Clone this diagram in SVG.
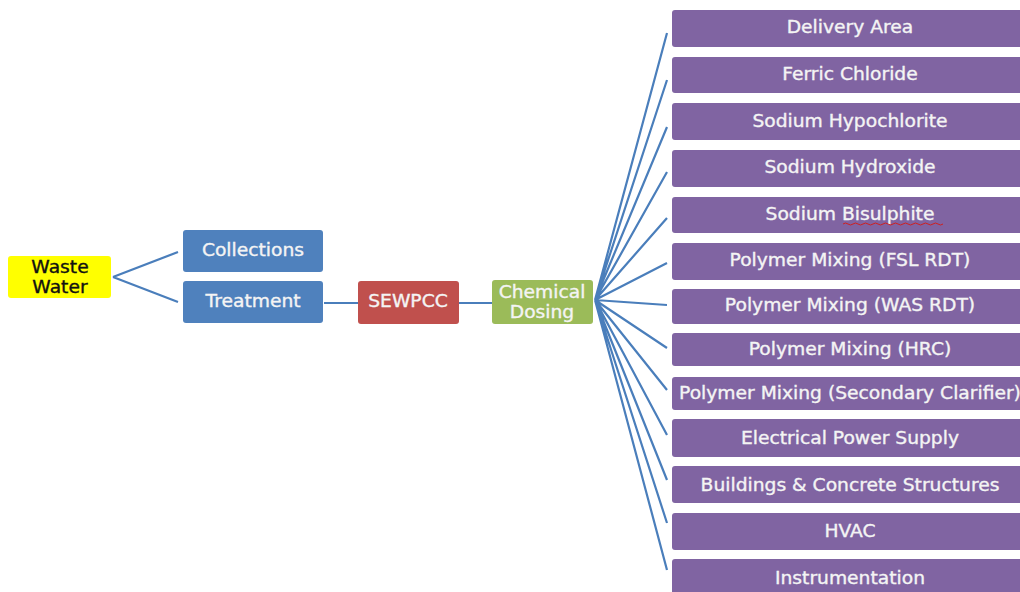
<svg xmlns="http://www.w3.org/2000/svg" width="1020" height="592" viewBox="0 0 1020 592">
<style>
.lbl{font-family:"DejaVu Sans","Verdana",sans-serif;font-size:17px;fill:#f4f4f4;stroke:#f4f4f4;stroke-width:0.35;text-anchor:middle;transform-box:fill-box;transform-origin:center;transform:scaleX(1.1)}
.dark{fill:#111;stroke:#111}
.p{fill:#8064A2}
.c{stroke:#4A7EBB;stroke-width:2.2;fill:none}
</style>
<rect width="1020" height="592" fill="#fff"/>
<g id="connectors" class="c">
<path d="M113 277 L178 252 M113 277 L178 302"/>
<path d="M324 303 L358 303"/>
<path d="M459 303 L492 303"/>
<path d="M595 300 L667 33 M595 300 L667 80 M595 300 L667 127 M595 300 L667 172 M595 300 L667 218 M595 300 L667 263 M595 300 L667 305 M595 300 L667 348 M595 300 L667 390 M595 300 L667 435 M595 300 L667 480 M595 300 L667 523 M595 300 L667 570"/>
</g>
<g id="waste-water"><rect x="8" y="256" width="103" height="42" rx="3" fill="#FFFF00"/><text class="lbl dark" x="60" y="273">Waste</text><text class="lbl dark" x="60" y="293">Water</text></g>
<g id="collections"><rect x="183" y="230" width="140" height="42" rx="3" fill="#4F81BD"/><text class="lbl" x="253" y="256">Collections</text></g>
<g id="treatment"><rect x="183" y="281" width="140" height="42" rx="3" fill="#4F81BD"/><text class="lbl" x="253" y="307">Treatment</text></g>
<g id="sewpcc"><rect x="358" y="281" width="101" height="43" rx="3" fill="#C0504D"/><text class="lbl" x="408" y="307">SEWPCC</text></g>
<g id="chemical-dosing"><rect x="492" y="280" width="101" height="44" rx="3" fill="#9BBB59"/><text class="lbl" x="542" y="298">Chemical</text><text class="lbl" x="542" y="318">Dosing</text></g>
<g id="delivery-area"><rect class="p" x="672" y="10" width="360" height="37" rx="3"/><text class="lbl" x="850" y="33">Delivery Area</text></g>
<g id="ferric-chloride"><rect class="p" x="672" y="57" width="360" height="36" rx="3"/><text class="lbl" x="850" y="80">Ferric Chloride</text></g>
<g id="sodium-hypochlorite"><rect class="p" x="672" y="103" width="360" height="37" rx="3"/><text class="lbl" x="850" y="127">Sodium Hypochlorite</text></g>
<g id="sodium-hydroxide"><rect class="p" x="672" y="150" width="360" height="37" rx="3"/><text class="lbl" x="850" y="173">Sodium Hydroxide</text></g>
<g id="sodium-bisulphite"><rect class="p" x="672" y="197" width="360" height="36" rx="3"/><text class="lbl" x="850" y="220">Sodium Bisulphite</text><path d="M843 224 q2.5 -2 5 0 t5 0 t5 0 t5 0 t5 0 t5 0 t5 0 t5 0 t5 0 t5 0 t5 0 t5 0 t5 0 t5 0 t5 0 t5 0 t5 0 t5 0 t5 0 t5 0" fill="none" stroke="#d02020" stroke-width="1"/></g>
<g id="polymer-fsl"><rect class="p" x="672" y="243" width="360" height="37" rx="3"/><text class="lbl" x="850" y="266">Polymer Mixing (FSL RDT)</text></g>
<g id="polymer-was"><rect class="p" x="672" y="289" width="360" height="35" rx="3"/><text class="lbl" x="850" y="311">Polymer Mixing (WAS RDT)</text></g>
<g id="polymer-hrc"><rect class="p" x="672" y="333" width="360" height="33" rx="3"/><text class="lbl" x="850" y="355">Polymer Mixing (HRC)</text></g>
<g id="polymer-secondary"><rect class="p" x="672" y="377" width="360" height="33" rx="3"/><text class="lbl" x="850" y="399">Polymer Mixing (Secondary Clarifier)</text></g>
<g id="electrical"><rect class="p" x="672" y="419" width="360" height="38" rx="3"/><text class="lbl" x="850" y="444">Electrical Power Supply</text></g>
<g id="buildings"><rect class="p" x="672" y="466" width="360" height="37" rx="3"/><text class="lbl" x="850" y="491">Buildings &amp; Concrete Structures</text></g>
<g id="hvac"><rect class="p" x="672" y="513" width="360" height="37" rx="3"/><text class="lbl" x="850" y="537">HVAC</text></g>
<g id="instrumentation"><rect class="p" x="672" y="559" width="360" height="40" rx="3"/><text class="lbl" x="850" y="584">Instrumentation</text></g>
</svg>
